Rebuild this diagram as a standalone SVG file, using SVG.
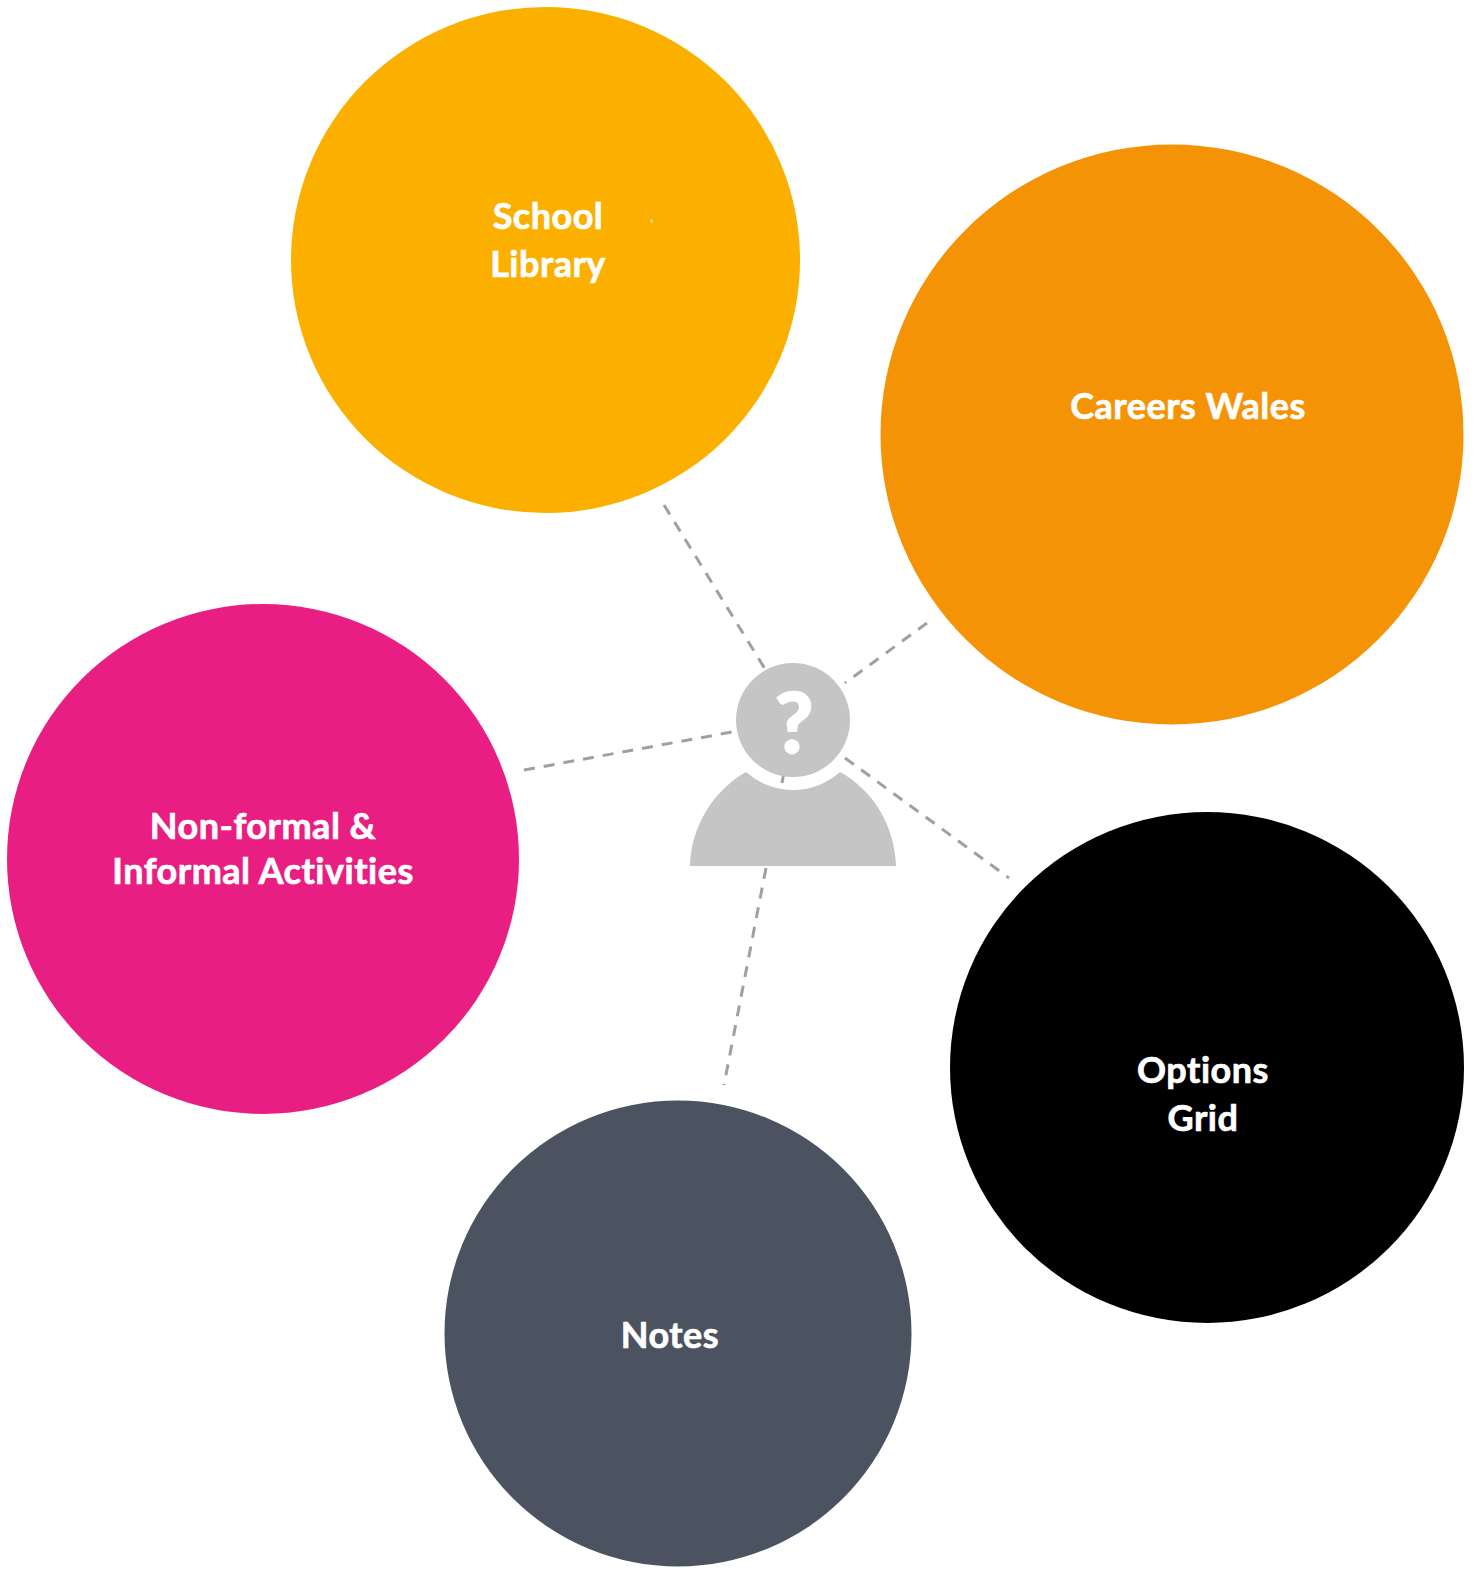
<svg xmlns="http://www.w3.org/2000/svg" width="1479" height="1574" viewBox="0 0 1479 1574">
<style>
.lbl{font-family:"Lato","Open Sans",sans-serif;font-weight:700;font-size:36px;fill:#fff;stroke:#fff;stroke-width:.7px;text-anchor:middle;font-variant-ligatures:none;letter-spacing:.5px}
.c{fill:none;stroke:#a0a0a0;stroke-width:3;stroke-dasharray:11 9}
.p{fill:#c5c5c5}
</style>
<rect width="1479" height="1574" fill="#fff"/>
<g id="connectors">
<line class="c" x1="664" y1="505" x2="770" y2="677"/>
<line class="c" x1="927" y1="623" x2="845" y2="683"/>
<line class="c" x1="845" y1="758" x2="1009" y2="878"/>
<line class="c" x1="524" y1="770" x2="732" y2="732"/>
<path class="c" d="M766 868L724 1085M782 783L783.3 776"/>
</g>
<g id="school-library"><ellipse cx="545.5" cy="260" rx="254.5" ry="253" fill="#fbb000"/>
<text class="lbl" x="548" y="229">School</text><text class="lbl" x="548" y="277">Library</text>
<rect x="650.5" y="219.5" width="2" height="3" fill="#ddd"/></g>
<g id="careers-wales"><ellipse cx="1172" cy="434.5" rx="291.5" ry="290" fill="#f59306"/>
<text class="lbl" x="1188" y="419">Careers Wales</text></g>
<g id="non-formal"><ellipse cx="263" cy="859" rx="256" ry="255" fill="#e91e82"/>
<text class="lbl" x="263" y="839">Non-formal &amp;</text><text class="lbl" x="263" y="884">Informal Activities</text></g>
<g id="options-grid"><ellipse cx="1207" cy="1067.5" rx="257" ry="255.5" fill="#000"/>
<text class="lbl" x="1203" y="1083">Options</text><text class="lbl" x="1203" y="1131">Grid</text></g>
<g id="notes"><ellipse cx="678" cy="1333.5" rx="233.5" ry="233" fill="#4c5360"/>
<text class="lbl" x="670" y="1348">Notes</text></g>
<g id="person">
<circle class="p" cx="793" cy="720" r="57"/>
<path class="p" d="M690 866C691 826 714 790 746 772Q767 790 793 790Q819 790 840 772C873 790 895 826 896 866Z"/>
<text x="794" y="753" font-family="Lato,sans-serif" font-weight="900" font-size="84" fill="#fff" stroke="#fff" stroke-width="1.5" text-anchor="middle">?</text>
</g>
</svg>
